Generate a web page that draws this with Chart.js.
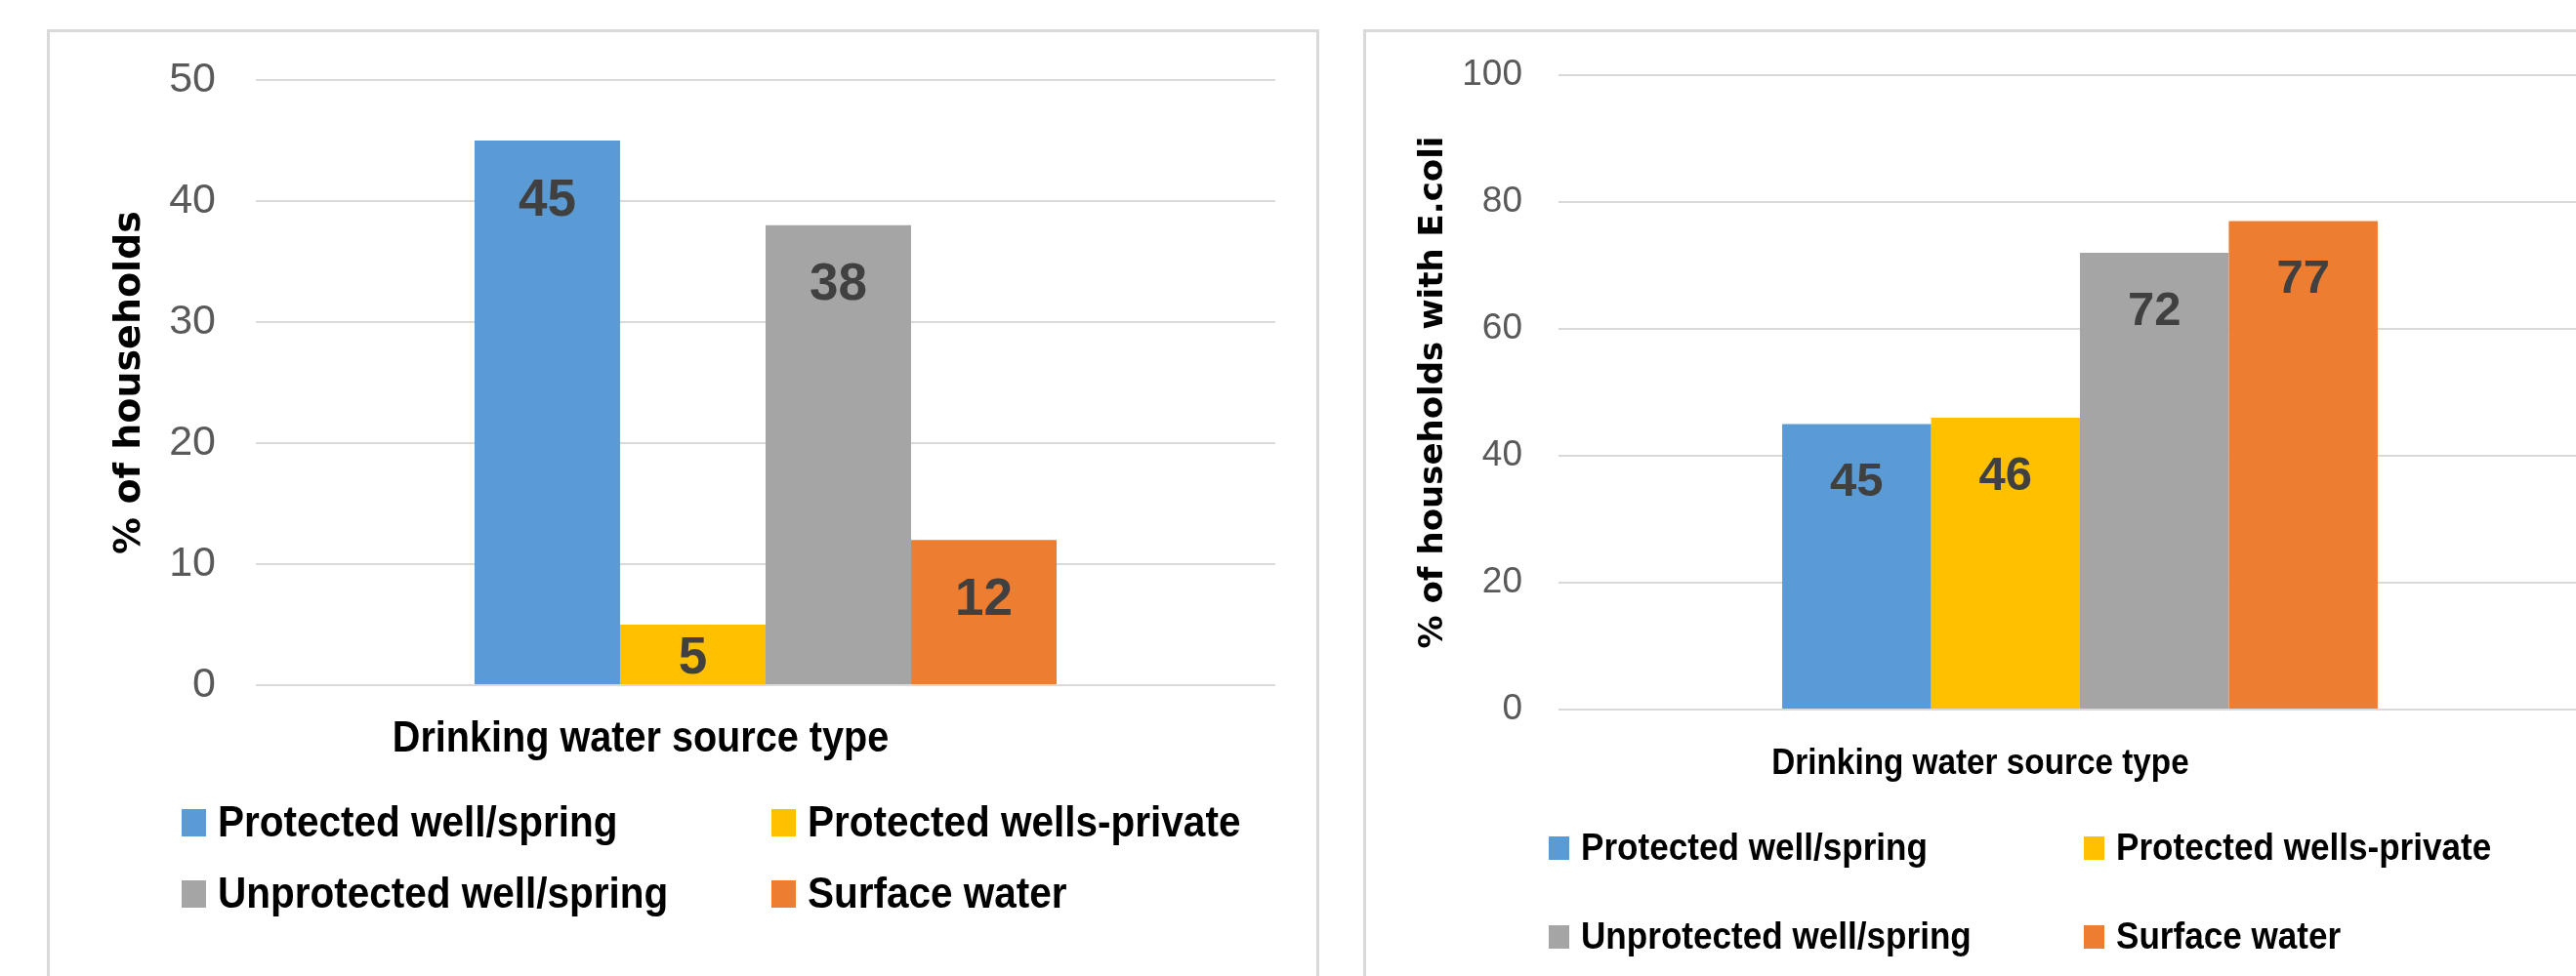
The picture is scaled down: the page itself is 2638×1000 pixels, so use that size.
<!DOCTYPE html>
<html>
<head>
<meta charset="utf-8">
<title>Drinking water source type</title>
<script src="https://cdn.jsdelivr.net/npm/chart.js@4/dist/chart.umd.min.js"></script>
<style>
  html, body { margin: 0; padding: 0; background: #fff; overflow: hidden; width: 2638px; height: 1000px; }
  .panel { position: absolute; top: 30px; width: 1297px; height: 1000px; border: 3px solid #d9d9d9; background: #fff; }
  .panel--left { left: 48px; }
  .panel--right { left: 1396px; }
  .panel .box { position: relative; width: 1297px; height: 967px; }
</style>
</head>
<body>
<div class="panel panel--left"><div class="box"><canvas id="chartHouseholds"></canvas></div></div>
<div class="panel panel--right"><div class="box"><canvas id="chartEcoli"></canvas></div></div>
<script>
/* Data */
const categories = [''];
const sourceTypes = ['Protected well/spring', 'Protected wells-private', 'Unprotected well/spring', 'Surface water'];
const sourceColors = ['#5B9BD5', '#FFC000', '#A5A5A5', '#ED7D31'];
const householdShare = [45, 5, 38, 12];
const ecoliShare = [45, 46, 72, 77];
const householdTicks = { max: 50, step: 10 };
const ecoliTicks = { max: 100, step: 20 };
const xTitle = 'Drinking water source type';

const SANS = "'Liberation Sans', Arial, sans-serif";
const WIDE = "'DejaVu Sans', Verdana, sans-serif";
const SQUEEZE = 0.9; // no narrow font here, so squeeze the bold text a bit

function narrowText (ctx, text, x, y) {
  ctx.fillText(text, x, y, ctx.measureText(text).width * SQUEEZE);
}

/* Value labels inside the bars */
const barLabels = {
  id: 'barLabels',
  afterDatasetsDraw(chart, args, opts) {
    const ctx = chart.ctx;
    const cap = opts.size * 0.73;
    ctx.save();
    ctx.font = 'bold ' + opts.size + 'px ' + SANS;
    ctx.fillStyle = '#404040';
    ctx.textAlign = 'center';
    ctx.textBaseline = 'alphabetic';
    chart.data.datasets.forEach(function (ds, i) {
      chart.getDatasetMeta(i).data.forEach(function (bar, j) {
        const mid = Math.min(bar.y + opts.inset + cap / 2, (bar.y + bar.base) / 2);
        ctx.fillText(ds.data[j], bar.x, mid + cap / 2);
      });
    });
    ctx.restore();
  }
};

/* Axis title + two column legend under the plot */
const gridLegend = {
  id: 'gridLegend',
  afterDraw(chart, args, opts) {
    const ctx = chart.ctx;
    ctx.save();
    ctx.fillStyle = '#000';
    ctx.textBaseline = 'alphabetic';
    ctx.textAlign = 'center';
    ctx.font = 'bold ' + opts.titleSize + 'px ' + SANS;
    narrowText(ctx, opts.title, opts.titleX, opts.titleY);

    ctx.textAlign = 'left';
    ctx.font = 'bold ' + opts.size + 'px ' + SANS;
    chart.data.datasets.forEach(function (ds, i) {
      const x = opts.cols[i % 2];
      const y = opts.rows[Math.floor(i / 2)];
      ctx.fillStyle = ds.backgroundColor;
      ctx.fillRect(x, y - opts.boxH / 2, opts.boxW, opts.boxH);
      ctx.fillStyle = '#000';
      narrowText(ctx, ds.label, x + opts.boxW + opts.gap, y + opts.boxH / 2);
    });
    ctx.restore();
  }
};

function makeDatasets (values) {
  return sourceTypes.map(function (name, i) {
    return {
      label: name,
      data: [values[i]],
      backgroundColor: sourceColors[i],
      borderWidth: 0,
      categoryPercentage: 0.571,
      barPercentage: 1
    };
  });
}

function makeChart (id, values, cfg) {
  return new Chart(document.getElementById(id), {
    type: 'bar',
    data: { labels: categories, datasets: makeDatasets(values) },
    plugins: [barLabels, gridLegend],
    options: {
      responsive: true,
      maintainAspectRatio: false,
      animation: false,
      layout: { padding: cfg.padding },
      scales: {
        x: { display: false },
        y: {
          min: 0,
          max: cfg.ticks.max,
          afterFit: function (scale) {
            scale.width = cfg.axisWidth;
            scale.paddingTop = 0;
            scale.paddingBottom = 0;
          },
          ticks: {
            stepSize: cfg.ticks.step,
            padding: cfg.tickPad,
            color: '#595959',
            font: { family: SANS, size: cfg.tickSize }
          },
          grid: { color: '#d9d9d9', lineWidth: 2, drawTicks: false },
          border: { display: false },
          title: {
            display: true,
            text: cfg.yTitle,
            color: '#000',
            padding: { top: cfg.yTitlePad, bottom: 0 },
            font: { family: WIDE, size: cfg.yTitleSize, weight: 'bold' }
          }
        }
      },
      plugins: {
        legend: { display: false },
        tooltip: { enabled: false },
        barLabels: { size: cfg.labelSize, inset: 38 },
        gridLegend: cfg.legend
      }
    }
  });
}

/* Chart */
makeChart('chartHouseholds', householdShare, {
  padding: { top: 49, right: 42, bottom: 298, left: 0 },
  ticks: householdTicks,
  axisWidth: 211,
  tickPad: 41,
  tickSize: 43,
  yTitle: '% of households',
  yTitleSize: 38,
  yTitlePad: 59,
  labelSize: 53,
  legend: {
    title: xTitle, titleSize: 44, titleX: 605, titleY: 737,
    size: 45, cols: [135, 739], rows: [810, 883], boxW: 25, boxH: 28, gap: 12
  }
});

makeChart('chartEcoli', ecoliShare, {
  padding: { top: 44, right: 32, bottom: 273, left: 0 },
  ticks: ecoliTicks,
  axisWidth: 197,
  tickPad: 37,
  tickSize: 37,
  yTitle: '% of households with E.coli',
  yTitleSize: 34,
  yTitlePad: 49,
  labelSize: 49,
  legend: {
    title: xTitle, titleSize: 37, titleX: 629, titleY: 760,
    size: 39, cols: [187, 735], rows: [836, 927], boxW: 21, boxH: 24, gap: 12
  }
});
</script>
</body>
</html>
